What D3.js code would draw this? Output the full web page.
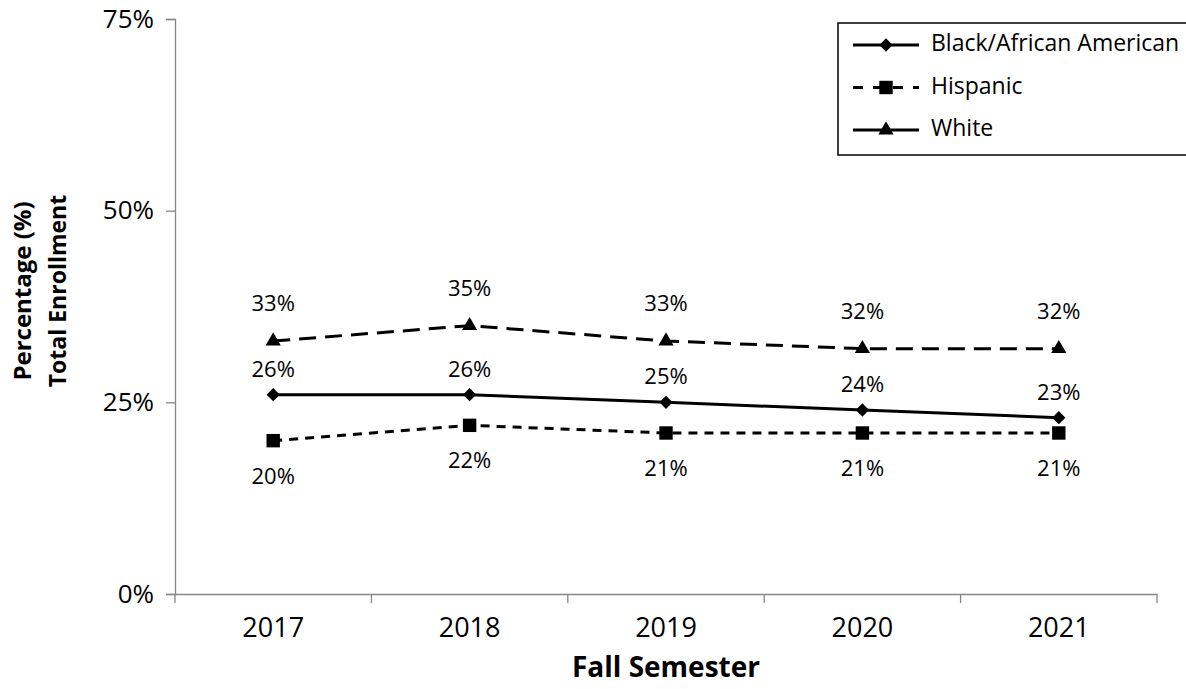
<!DOCTYPE html>
<html>
<head>
<meta charset="utf-8">
<script src="https://cdn.jsdelivr.net/npm/d3@7"></script>
<style>
  body { margin: 0; background: #fff; }
  text { font-family: "Open Sans", "Noto Sans", sans-serif; fill: #000; }
</style>
</head>
<body>
<svg id="chart" width="1186" height="689"></svg>
<script>
var years = ["2017", "2018", "2019", "2020", "2021"];
var black = [26, 26, 25, 24, 23];
var hispanic = [20, 22, 21, 21, 21];
var white = [33, 35, 33, 32, 32];
var yTicks = [0, 25, 50, 75];

(function () {
  var svg = d3.select("#chart"),
      margin = {top: 19, right: 29, bottom: 95, left: 175},
      width = +svg.attr("width") - margin.left - margin.right,
      height = +svg.attr("height") - margin.top - margin.bottom,
      g = svg.append("g").attr("transform", "translate(" + margin.left + "," + margin.top + ")");

  var x = d3.scaleBand().domain(years).range([0, width]);
  var y = d3.scaleLinear().domain([0, 75]).range([height, 0]);
  var axisColor = "#868686";

  var diamond = d3.symbol().type(d3.symbolSquare).size(88);
  var series = [
    {name: "Black/African American", values: black, dash: null, legDash: null, sym: diamond, rot: 45, dy: -24},
    {name: "Hispanic", values: hispanic, dash: "9,7", legDash: "10,10", sym: d3.symbol().type(d3.symbolSquare).size(180), rot: 0, dy: 37},
    {name: "White", values: white, dash: "17,9", legDash: null, sym: d3.symbol().type(d3.symbolTriangle).size(100), rot: 0, dy: -36}
  ];

  // y axis
  var yAxis = g.append("g")
      .call(d3.axisLeft(y).tickValues(yTicks).tickSize(9).tickPadding(12).tickFormat(function(d) { return d + "%"; }));
  yAxis.selectAll("line, path").attr("stroke", axisColor).attr("stroke-width", 1.3);
  yAxis.selectAll("text").style("font-size", "26px");

  // x axis: labels centred on bands, ticks on band edges
  var xAxis = g.append("g")
      .attr("transform", "translate(0," + height + ")")
      .call(d3.axisBottom(x).tickSize(0));
  xAxis.select(".domain").attr("stroke", axisColor).attr("stroke-width", 1.3);
  xAxis.selectAll("text")
      .attr("y", 36).attr("dy", null)
      .attr("dominant-baseline", "middle")
      .style("font-size", "27px");
  g.append("g").selectAll("line")
      .data(years.concat(["end"]))
      .enter().append("line")
      .attr("x1", function(d, i) { return i < years.length ? x(d) : width; })
      .attr("x2", function(d, i) { return i < years.length ? x(d) : width; })
      .attr("y1", height).attr("y2", height + 9)
      .attr("stroke", axisColor).attr("stroke-width", 1.3);

  var cx = function(d, i) { return x(years[i]) + x.bandwidth() / 2; };
  var line = d3.line().x(cx).y(function(d) { return y(d); });

  series.forEach(function(s) {
    g.append("path")
        .datum(s.values)
        .attr("d", line)
        .attr("fill", "none")
        .attr("stroke", "#000")
        .attr("stroke-width", 3)
        .attr("stroke-dasharray", s.dash);

    g.selectAll(null)
        .data(s.values)
        .enter().append("path")
        .attr("d", s.sym)
        .attr("transform", function(d, i) { return "translate(" + cx(d, i) + "," + y(d) + ") rotate(" + s.rot + ")"; })
        .attr("fill", "#000");

    g.selectAll(null)
        .data(s.values)
        .enter().append("text")
        .attr("x", cx)
        .attr("y", function(d) { return y(d) + s.dy; })
        .attr("text-anchor", "middle")
        .attr("dominant-baseline", "middle")
        .style("font-size", "22px")
        .text(function(d) { return d + "%"; });
  });

  // axis titles
  svg.append("text")
      .attr("transform", "translate(25,291) rotate(-90)")
      .attr("text-anchor", "middle")
      .attr("dominant-baseline", "middle")
      .style("font-size", "24px").style("font-weight", "bold")
      .text("Percentage (%)");
  svg.append("text")
      .attr("transform", "translate(60,291) rotate(-90)")
      .attr("text-anchor", "middle")
      .attr("dominant-baseline", "middle")
      .style("font-size", "23px").style("font-weight", "bold")
      .text("Total Enrollment");
  svg.append("text")
      .attr("x", margin.left + width / 2)
      .attr("y", 670)
      .attr("text-anchor", "middle")
      .attr("dominant-baseline", "middle")
      .style("font-size", "28px").style("font-weight", "bold")
      .text("Fall Semester");

  // legend
  var legend = svg.append("g").attr("transform", "translate(838,23)");
  legend.append("rect")
      .attr("width", 360).attr("height", 132)
      .attr("fill", "#fff").attr("stroke", "#000").attr("stroke-width", 1.5);
  series.forEach(function(s, i) {
    var ly = 22 + i * 42.5;
    legend.append("line")
        .attr("x1", 15).attr("x2", 81).attr("y1", ly).attr("y2", ly)
        .attr("stroke", "#000").attr("stroke-width", 3)
        .attr("stroke-dasharray", s.legDash);
    legend.append("path")
        .attr("d", s.sym)
        .attr("transform", "translate(48," + ly + ") rotate(" + s.rot + ")");
    legend.append("text")
        .attr("x", 93).attr("y", ly)
        .attr("dominant-baseline", "middle")
        .style("font-size", "23px")
        .text(s.name);
  });
})();
</script>
</body>
</html>
